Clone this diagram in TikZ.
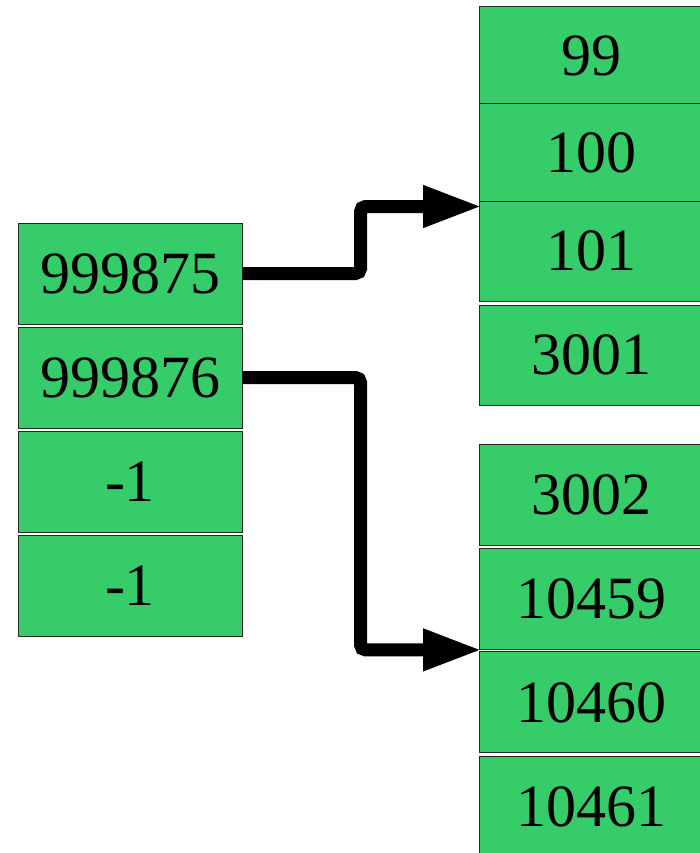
\documentclass[tikz,border=0pt]{standalone}
\usepackage{fontspec}
\setmainfont{Liberation Serif}
\usetikzlibrary{arrows.meta}
\definecolor{cellgreen}{RGB}{54,204,106}
\tikzset{
  cell/.style={draw=black!85, line width=1pt, fill=cellgreen, inner sep=0pt,
    minimum width=224pt, font=\fontsize{60}{72}\selectfont, text=black},
  ptr/.style={line width=13pt, rounded corners=5pt,
    -{Triangle[length=59pt,width=39pt]}}
}
\begin{document}
\begin{tikzpicture}[x=1pt,y=1pt]
\useasboundingbox (0,0) rectangle (700,-853);
\clip (0,0) rectangle (700,-853);
% left column
\node[cell, minimum height=101pt] (l1) at (130,-273.5) {999875};
\node[cell, minimum height=101pt] (l2) at (130,-377.5) {999876};
\node[cell, minimum height=101pt] (l3) at (130,-481.5) {-1};
\node[cell, minimum height=101pt] (l4) at (130,-585.5) {-1};
% right column
\node[cell, minimum height=97pt] (r1) at (591,-55.5) {99};
\node[cell, minimum height=97pt] (r2) at (591,-152.5) {100};
\node[cell, minimum height=100pt] (r3) at (591,-251) {101};
\node[cell, minimum height=100pt] (r4) at (591,-355) {3001};
\node[cell, minimum height=101pt] (r5) at (591,-494.8) {3002};
\node[cell, minimum height=101pt] (r6) at (591,-598.6) {10459};
\node[cell, minimum height=101pt] (r7) at (591,-702.4) {10460};
\node[cell, minimum height=101pt] (r8) at (591,-806.5) {10461};
% arrow targets
\coordinate (t1) at ([xshift=3.5pt,yshift=-6pt]r3.north west);
\coordinate (t2) at ([xshift=3.5pt,yshift=1.5pt]r7.north west);
% pointers
\draw[ptr] (l1.east) -- ++(118,0) |- (t1);
\draw[ptr] (l2.east) -- ++(118,0) |- (t2);
\end{tikzpicture}
\end{document}
